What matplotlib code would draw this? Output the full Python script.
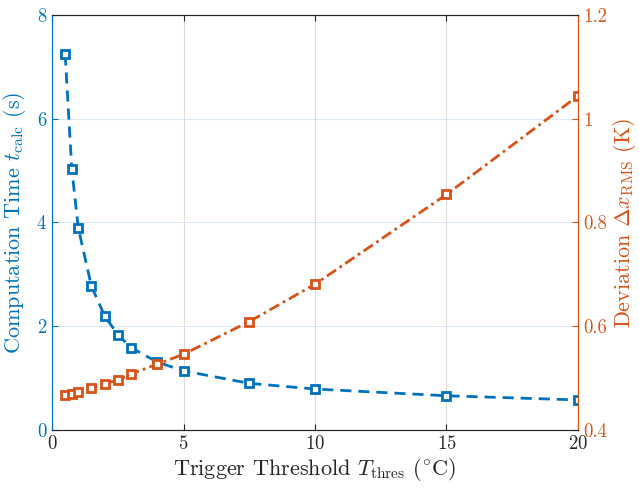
import matplotlib
matplotlib.use("Agg")
import matplotlib.pyplot as plt

plt.rcParams['font.family'] = 'serif'
plt.rcParams['font.serif'] = ['cmr10']
plt.rcParams['mathtext.fontset'] = 'cm'
plt.rcParams['axes.formatter.use_mathtext'] = True

threshold = [0.5, 0.75, 1, 1.5, 2, 2.5, 3, 4, 5, 7.5, 10, 15, 20]
calc_time = [7.24, 5.04, 3.89, 2.77, 2.2, 1.84, 1.59, 1.31, 1.14, 0.90, 0.79, 0.66, 0.58]
deviation = [0.467, 0.470, 0.474, 0.481, 0.489, 0.496, 0.508, 0.527, 0.546, 0.609, 0.681, 0.854, 1.044]

blue = '#0072BD'
orange = '#D95319'

fig = plt.figure(figsize=(6.39, 4.91), dpi=100)
ax = fig.add_axes([0.0814, 0.1242, 0.8231, 0.8453])
ax2 = ax.twinx()

ax.plot(threshold, calc_time, '--', color=blue, lw=2, marker='s', ms=6,
        mfc='white', mec=blue, mew=2, dashes=(4, 2.5))
ax2.plot(threshold, deviation, '-.', color=orange, lw=2, marker='s', ms=6,
         mfc='white', mec=orange, mew=2, dashes=(4, 1.5, 1, 1.5))

ax.set_xlim(0, 20)
ax.set_ylim(0, 8)
ax2.set_ylim(0.4, 1.2)
ax.set_xticks([0, 5, 10, 15, 20])
ax.set_yticks([0, 2, 4, 6, 8])
ax2.set_yticks([0.4, 0.6, 0.8, 1.0, 1.2])
ax2.set_yticklabels(['0.4', '0.6', '0.8', '1', '1.2'])

ax.xaxis.grid(True, color='#dcdcdc', lw=0.8)
for yv in [2, 4, 6]:
    ax.axhline(yv, color='#dbe8f5', lw=0.8, zorder=0)
ax.set_axisbelow(True)

ax.tick_params(axis='x', direction='in', top=True, length=4, labelsize=13.5, colors='#262626')
ax.tick_params(axis='y', direction='in', length=4, labelsize=13.5, colors=blue)
ax2.tick_params(axis='y', direction='in', length=4, labelsize=13.5, colors=orange)

for a in (ax, ax2):
    a.spines['top'].set_color('#262626')
    a.spines['bottom'].set_color('#262626')
    a.spines['left'].set_color(blue)
    a.spines['right'].set_color(orange)

ax.set_xlabel(r'Trigger Threshold $T_{\mathrm{thres}}$ ($^{\circ}$C)', fontsize=16, color='#262626', labelpad=2)
ax.set_ylabel(r'Computation Time $t_{\mathrm{calc}}$ (s)', fontsize=16, color=blue)
ax2.set_ylabel(r'Deviation $\Delta x_{\mathrm{RMS}}$ (K)', fontsize=16, color=orange)
ax.yaxis.set_label_coords(-0.046, 0.5)
ax2.yaxis.set_label_coords(1.063, 0.5)

fig.savefig('out.png', dpi=100)
